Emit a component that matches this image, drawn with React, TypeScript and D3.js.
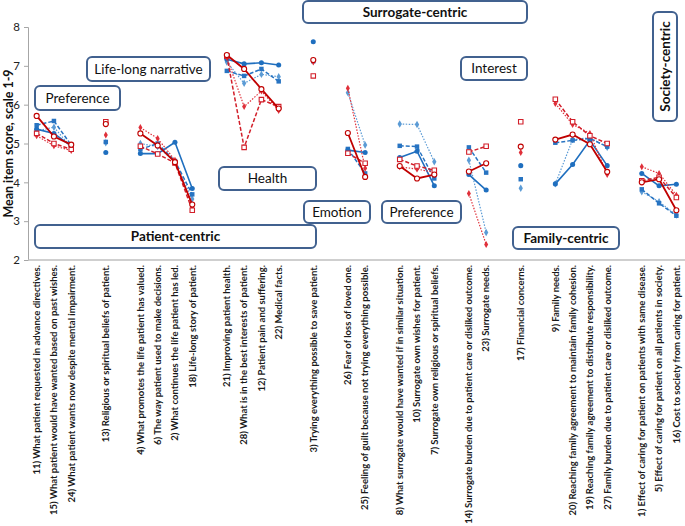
import { useRef, useEffect } from 'react'
import * as d3 from 'd3'

// category slots, '' = gap between item groups
const categories = [
	'11) What patient requested in advance directives.',
	'15) What patient would have wanted based on past wishes.',
	'24) What patient wants now despite mental impairment.',
	'',
	'13) Religious or spiritual beliefs of patient.',
	'',
	'4) What promotes the life patient has valued.',
	'6) The way patient used to make decisions.',
	'2) What continues the life patient has led.',
	'18) Life-long story of patient.',
	'',
	'21) Improving patient health.',
	'28) What is in the best interests of patient.',
	'12) Patient pain and suffering.',
	'22) Medical facts.',
	'',
	'3) Trying everything possible to save patient.',
	'',
	'26) Fear of loss of loved one.',
	'25) Feeling of guilt because not trying everything possible.',
	'',
	'8) What surrogate would have wanted if in similar situation.',
	'10) Surrogate own wishes for patient.',
	'7) Surrogate own religious or spiritual beliefs.',
	'',
	'14) Surrogate burden due to patient care or disliked outcome.',
	'23) Surrogate needs.',
	'',
	'17) Financial concerns.',
	'',
	'9) Family needs.',
	'20) Reaching family agreement to maintain family cohesion.',
	'19) Reaching family agreement to distribute responsibility.',
	'27) Family burden due to patient care or disliked outcome.',
	'',
	'1) Effect of caring for patient on patients with same disease.',
	'5) Effect of caring for patient on all patients in society.',
	'16) Cost to society from caring for patient.',
]

const _ = null
const blueSolid = [5.37, 5.26, 4.93, _, 4.77, _, 4.74, 4.74, 5.03, 3.84, _, 7.17, 7.05, 7.08, 7.02, _, 7.62, _, 4.83, 4.77, _, 4.64, 4.8, 3.91, _, 4.2, 3.8, _, 4.43, _, 3.96, 4.46, 5.08, 4.43, _, 4.23, 3.91, 3.95]
const blueDashed = [5.47, 5.58, 4.96, _, 5.04, _, 4.85, 5.0, 4.55, 3.69, _, 6.87, 6.74, 6.92, 6.6, _, 7.12, _, 4.86, 4.23, _, 4.94, 4.92, 4.1, _, 4.9, 4.25, _, 4.08, _, 5.02, 5.08, 5.13, 4.92, _, 3.82, 3.46, 3.14]
const blueDotted = [5.32, 5.42, 4.9, _, 5.02, _, 5.0, 4.92, 4.52, 3.57, _, 7.1, 6.55, 6.78, 6.72, _, 7.13, _, 6.31, 4.96, _, 5.5, 5.49, 4.53, _, 4.57, 2.71, _, 3.85, _, 3.96, 5.1, 5.15, 4.9, _, 3.76, 3.5, 3.16]
const redSolid = [5.71, 5.18, 4.97, _, 5.5, _, 5.26, 4.95, 4.52, 3.43, _, 7.28, 6.92, 6.4, 5.9, _, 7.15, _, 5.27, 4.14, _, 4.42, 4.1, 4.2, _, 4.28, 4.49, _, 4.92, _, 5.1, 5.23, 4.98, 4.27, _, 4.0, 4.08, 3.28]
const redDashed = [5.26, 5.0, 4.85, _, 5.56, _, 4.93, 4.73, 4.5, 3.28, _, 7.25, 4.9, 6.13, 5.95, _, 6.74, _, 4.75, 4.49, _, 4.59, 4.42, 4.31, _, 4.78, 4.93, _, 5.56, _, 6.14, 5.56, 5.2, 5.0, _, 4.04, 4.13, 3.61]
const redDotted = [5.2, 4.94, 4.82, _, 5.22, _, 5.41, 5.13, 4.57, 3.37, _, 7.22, 5.95, 6.35, 5.85, _, 7.1, _, 6.42, 4.36, _, 4.4, 4.34, 4.26, _, 3.71, 2.4, _, 4.77, _, 6.03, 5.49, 5.26, 4.2, _, 4.4, 4.23, 3.67]

const yTicks = [2, 3, 4, 5, 6, 7, 8]

const boxLabels = [
	{ text: 'Preference', x0: 35, x1: 120, y0: 86, y1: 110, bold: false },
	{ text: 'Life-long narrative', x0: 87, x1: 210, y0: 57, y1: 81, bold: false },
	{ text: 'Patient-centric', x0: 35, x1: 316, y0: 225, y1: 248, bold: true },
	{ text: 'Health', x0: 219, x1: 316, y0: 167, y1: 190, bold: false },
	{ text: 'Emotion', x0: 304, x1: 370, y0: 201, y1: 223, bold: false },
	{ text: 'Preference', x0: 382, x1: 461, y0: 201, y1: 223, bold: false },
	{ text: 'Surrogate-centric', x0: 303, x1: 527, y0: 1, y1: 23, bold: true },
	{ text: 'Interest', x0: 461, x1: 527, y0: 57, y1: 80, bold: false },
	{ text: 'Family-centric', x0: 513, x1: 619, y0: 227, y1: 249, bold: true },
	{ text: 'Society-centric', x0: 653, x1: 677, y0: 12, y1: 121, bold: true, vertical: true },
]

const W = 685
const H = 526
const margin = { top: 27, right: 0, bottom: 266, left: 28 }

export default function App() {
	const ref = useRef(null)

	useEffect(() => {
		const svg = d3.select(ref.current)
		svg.selectAll('*').remove()

		const x = d3
			.scaleBand()
			.domain(d3.range(categories.length))
			.range([margin.left, W - margin.right])
		const y = d3
			.scaleLinear()
			.domain([2, 8])
			.range([H - margin.bottom, margin.top])
		const cx = (i) => x(i) + x.bandwidth() / 2

		// y axis
		svg
			.append('g')
			.attr('transform', `translate(${margin.left},0)`)
			.call(
				d3
					.axisLeft(y)
					.tickValues(yTicks)
					.tickFormat(d3.format('d'))
					.tickSize(4)
					.tickPadding(4)
			)
			.call((g) => g.select('.domain').attr('stroke', '#a6a6a6'))
			.call((g) => g.selectAll('.tick line').attr('stroke', '#a6a6a6'))
			.call((g) =>
				g
					.selectAll('.tick text')
					.attr('fill', '#222')
					.attr('font-size', 11.5)
					.attr('font-family', 'Lato, sans-serif')
			)

		svg
			.append('text')
			.attr('transform', `translate(9,${(y(2) + y(8)) / 2}) rotate(-90)`)
			.attr('text-anchor', 'middle')
			.attr('dy', '0.35em')
			.attr('font-family', 'Lato, sans-serif')
			.attr('font-weight', 'bold')
			.attr('font-size', 12.5)
			.attr('fill', '#111')
			.text('Mean item score, scale 1-9')

		// x axis line + labels
		svg
			.append('line')
			.attr('x1', margin.left)
			.attr('x2', W)
			.attr('y1', y(2))
			.attr('y2', y(2))
			.attr('stroke', '#bfbfbf')
			.attr('stroke-width', 1.5)

		svg
			.append('g')
			.selectAll('text')
			.data(categories.map((c, i) => ({ c, i })).filter((d) => d.c))
			.join('text')
			.attr('transform', (d) => `translate(${cx(d.i)},${y(2) + 5}) rotate(-90)`)
			.attr('text-anchor', 'end')
			.attr('dy', '0.35em')
			.attr('font-family', 'Lato, sans-serif')
			.attr('font-weight', 'bold')
			.attr('font-size', 9.5)
			.attr('fill', '#1a1a1a')
			.text((d) => d.c)

		// annotation boxes
		const bx = svg.append('g').selectAll('g').data(boxLabels).join('g')
		bx.append('rect')
			.attr('x', (d) => d.x0)
			.attr('y', (d) => d.y0)
			.attr('width', (d) => d.x1 - d.x0)
			.attr('height', (d) => d.y1 - d.y0)
			.attr('rx', 5)
			.attr('fill', '#fff')
			.attr('stroke', '#41618f')
			.attr('stroke-width', 2)
		bx.append('text')
			.attr('transform', (d) => {
				const mx = (d.x0 + d.x1) / 2
				const my = (d.y0 + d.y1) / 2
				return d.vertical ? `translate(${mx},${my}) rotate(-90)` : `translate(${mx},${my})`
			})
			.attr('text-anchor', 'middle')
			.attr('dy', '0.36em')
			.attr('font-family', 'Lato, sans-serif')
			.attr('font-weight', (d) => (d.bold ? 'bold' : 'normal'))
			.attr('font-size', 13.5)
			.attr('fill', '#111')
			.text((d) => d.text)

		const series = [
			{ values: blueDotted, color: '#5b9bd5', dash: '1.5,1.5', width: 1.2, marker: d3.symbolDiamond, size: 16, open: false },
			{ values: blueDashed, color: '#2874c2', dash: '4,2', width: 1.5, marker: d3.symbolSquare, size: 20, open: false },
			{ values: blueSolid, color: '#1f6fbf', dash: null, width: 1.6, marker: d3.symbolCircle, size: 20, open: false },
			{ values: redDotted, color: '#e0303a', dash: '1.5,1.5', width: 1.2, marker: d3.symbolDiamond, size: 14, open: false },
			{ values: redDashed, color: '#d21f2a', dash: '4,2', width: 1.5, marker: d3.symbolSquare, size: 20, open: true },
			{ values: redSolid, color: '#c00000', dash: null, width: 1.8, marker: d3.symbolCircle, size: 20, open: true },
		]

		const line = d3
			.line()
			.defined((d) => d != null)
			.x((d, i) => cx(i))
			.y((d) => y(d))

		series.forEach((s) => {
			svg
				.append('path')
				.datum(s.values)
				.attr('d', line)
				.attr('fill', 'none')
				.attr('stroke', s.color)
				.attr('stroke-width', s.width)
				.attr('stroke-dasharray', s.dash)

			svg
				.append('g')
				.selectAll('path')
				.data(s.values.map((v, i) => ({ v, i })).filter((d) => d.v != null))
				.join('path')
				.attr('transform', (d) => `translate(${cx(d.i)},${y(d.v)})`)
				.attr('d', d3.symbol().type(s.marker).size(s.size))
				.attr('fill', s.open ? '#fff' : s.color)
				.attr('stroke', s.color)
				.attr('stroke-width', s.open ? 1.1 : 0)
		})
	}, [])

	return (
		<svg
			ref={ref}
			width={W}
			height={H}
			style={{ position: 'absolute', left: 0, top: 0, background: '#fff' }}
		></svg>
	)
}
